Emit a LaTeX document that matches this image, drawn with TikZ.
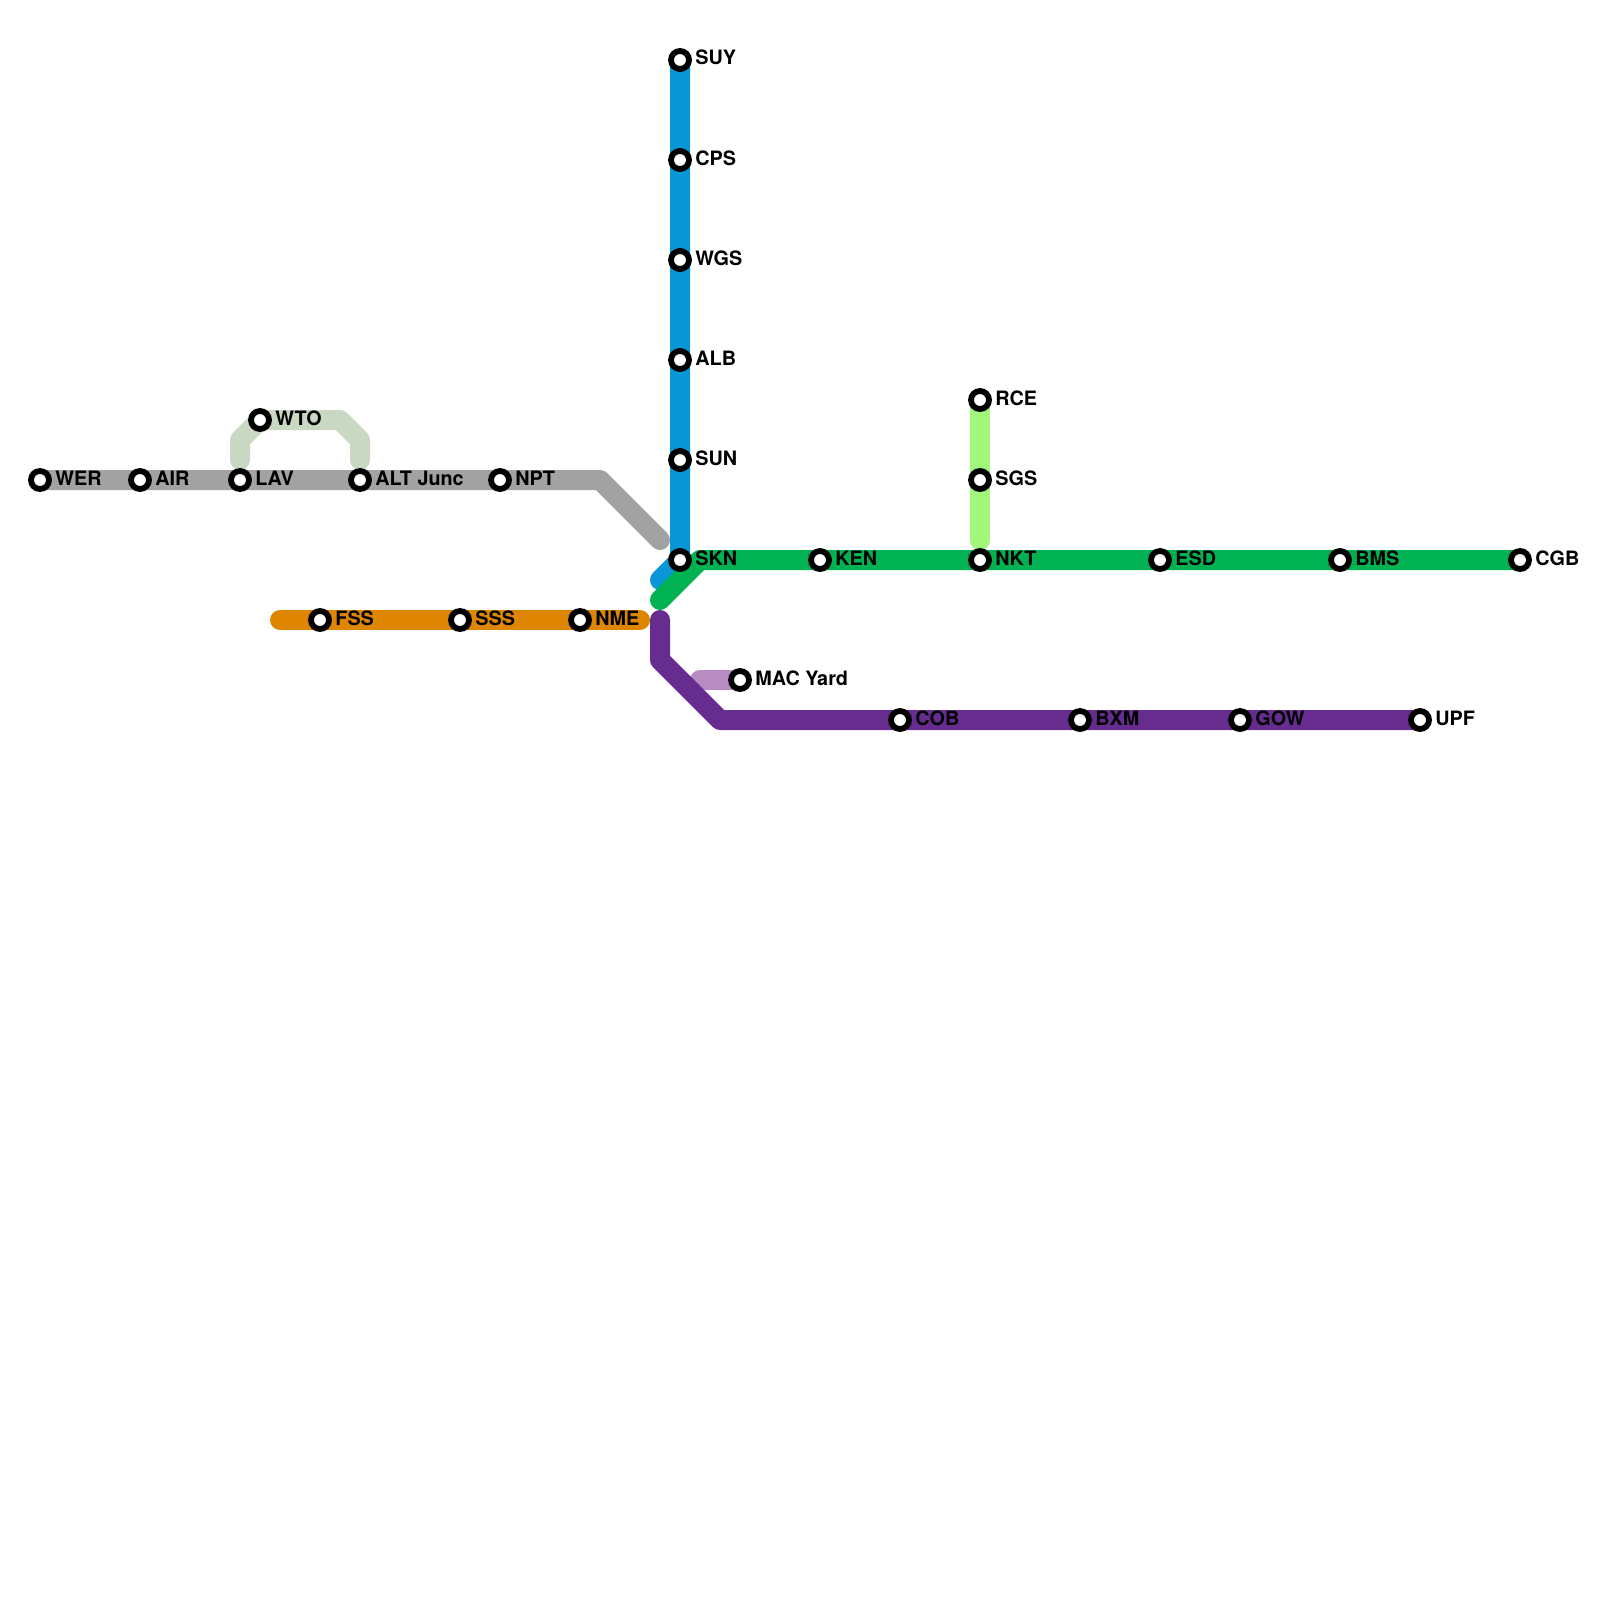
\documentclass[tikz,border=0pt]{standalone}
\usepackage{fontspec}
\setmainfont{TeX Gyre Heros}
\definecolor{cgray}{HTML}{A2A2A2}
\definecolor{cblue}{HTML}{0896D7}
\definecolor{cgreen}{HTML}{00B251}
\definecolor{corange}{HTML}{DF8600}
\definecolor{cpurple}{HTML}{662C90}
\definecolor{cmauve}{HTML}{B88CC2}
\definecolor{csage}{HTML}{C8D8C2}
\definecolor{clime}{HTML}{A1F779}
\tikzset{
 metro/.style={line width=10pt,line cap=round,line join=round},
 stn/.style={circle,draw=black,fill=white,line width=2.9pt,minimum size=9pt,inner sep=0pt},
 lbl/.style={anchor=base west,font=\fontsize{9.9pt}{11pt}\selectfont\bfseries,text=black,inner sep=0pt},
}
\newcommand{\stnat}[4]{\node[stn] (#1) at (#2,#3) {};\node[lbl] (#1l) at (#2+15,#3+5) {#4};}
\begin{document}
\begin{tikzpicture}[x=0.5pt,y=-0.5pt]
\useasboundingbox (0,0) rectangle (1600,1600);
\coordinate (g1) at (600,480);\coordinate (g2) at (660,540);
\coordinate (b1) at (660,580);
\coordinate (gr0) at (660,600);\coordinate (gr1) at (700,560);
\coordinate (o0) at (280,620);\coordinate (o1) at (640,620);
\coordinate (p0) at (660,620);\coordinate (p1) at (660,660);\coordinate (p2) at (720,720);
\coordinate (m0) at (700,680);
\coordinate (s1) at (240,440);\coordinate (s2) at (260,420);\coordinate (s3) at (340,420);\coordinate (s4) at (360,440);
\coordinate (s0) at (240,460);\coordinate (s5) at (360,460);
\coordinate (l1) at (980,540);
\coordinate (WERc) at (40,480);\coordinate (SKNc) at (680,560);\coordinate (SUYc) at (680,60);
\coordinate (CGBc) at (1520,560);\coordinate (UPFc) at (1420,720);\coordinate (MACc) at (740,680);\coordinate (RCEc) at (980,400);
\draw[metro,csage] (s0) -- (s1) -- (s2) -- (s3) -- (s4) -- (s5);
\draw[metro,cgray] (WERc) -- (g1) -- (g2);
\draw[metro,cblue] (SUYc) -- (SKNc) -- (b1);
\draw[metro,cgreen] (gr0) -- (gr1) -- (CGBc);
\draw[metro,clime] (RCEc) -- (l1);
\draw[metro,corange] (o0) -- (o1);
\draw[metro,cmauve] (m0) -- (MACc);
\draw[metro,cpurple] (p0) -- (p1) -- (p2) -- (UPFc);
\stnat{WER}{40}{480}{WER}
\stnat{AIR}{140}{480}{AIR}
\stnat{LAV}{240}{480}{LAV}
\stnat{ALT}{360}{480}{ALT Junc}
\stnat{NPT}{500}{480}{NPT}
\stnat{WTO}{260}{420}{WTO}
\stnat{FSS}{320}{620}{FSS}
\stnat{SSS}{460}{620}{SSS}
\stnat{NME}{580}{620}{NME}
\stnat{SUY}{680}{60}{SUY}
\stnat{CPS}{680}{160}{CPS}
\stnat{WGS}{680}{260}{WGS}
\stnat{ALB}{680}{360}{ALB}
\stnat{SUN}{680}{460}{SUN}
\stnat{SKN}{680}{560}{SKN}
\stnat{KEN}{820}{560}{KEN}
\stnat{NKT}{980}{560}{NKT}
\stnat{ESD}{1160}{560}{ESD}
\stnat{BMS}{1340}{560}{BMS}
\stnat{CGB}{1520}{560}{CGB}
\stnat{RCE}{980}{400}{RCE}
\stnat{SGS}{980}{480}{SGS}
\stnat{MAC}{740}{680}{MAC Yard}
\stnat{COB}{900}{720}{COB}
\stnat{BXM}{1080}{720}{BXM}
\stnat{GOW}{1240}{720}{GOW}
\stnat{UPF}{1420}{720}{UPF}
\end{tikzpicture}
\end{document}
